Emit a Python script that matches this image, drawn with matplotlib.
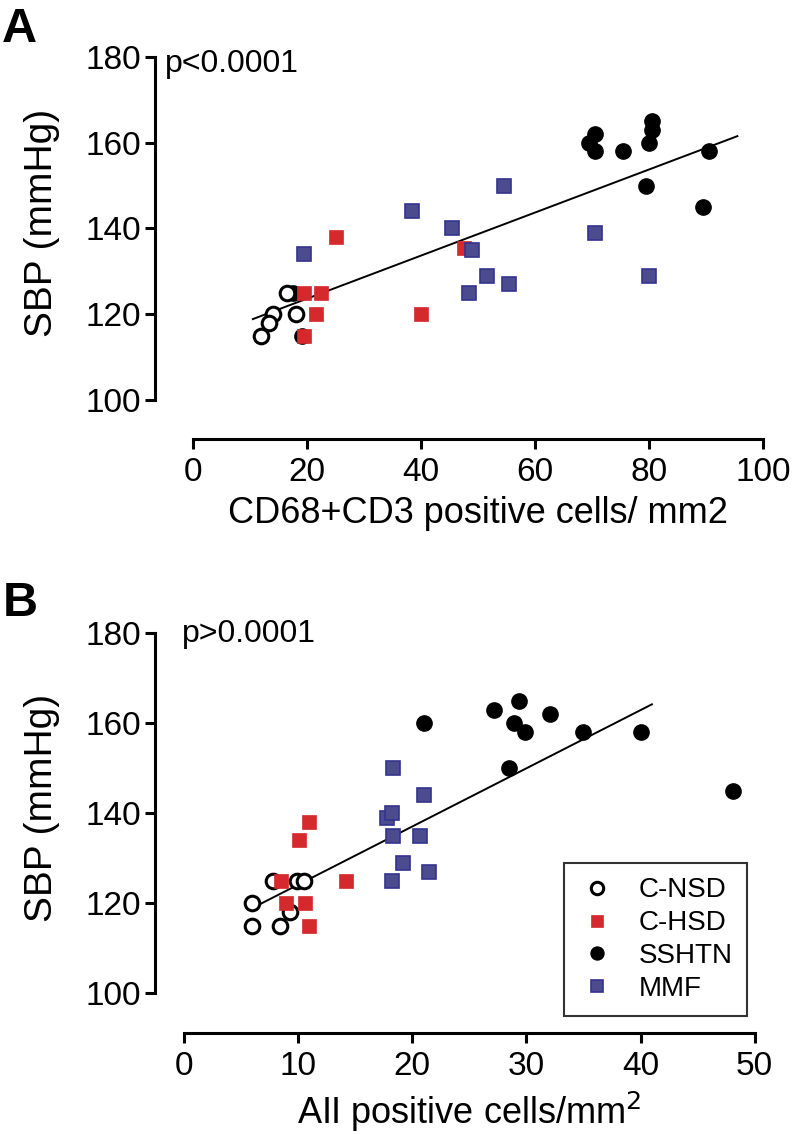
import numpy as np
import matplotlib
matplotlib.use("Agg")
import matplotlib.pyplot as plt

plt.rcParams["font.family"] = ["Liberation Sans", "DejaVu Sans"]

# ============================================================
# Data
# ============================================================
# Panel A: CD68+CD3 positive cells / mm2 vs SBP
A_NSD_X = [16.5, 18.0, 14.0, 13.4, 12.0]
A_NSD_Y = [125, 120, 120, 118, 115]
A_HSD_X = [25.0, 19.5, 22.5, 21.5, 19.5, 40.0, 47.5]
A_HSD_Y = [138, 125, 125, 120, 115, 120, 135.5]
A_SSH_X = [17.5, 19.2, 70.5, 69.5, 70.5, 75.5, 80.5, 80.5, 80.0, 90.5, 79.5, 89.5]
A_SSH_Y = [125, 115, 162, 160, 158, 158, 165, 163, 160, 158, 150, 145]
A_MMF_X = [19.5, 38.5, 45.5, 49.0, 54.5, 70.5, 48.5, 51.5, 55.5, 80.0]
A_MMF_Y = [134, 144, 140, 135, 150, 139, 125, 129, 127, 129]
A_FIT = (0.502, 113.6)        # slope, intercept
A_FIT_RANGE = (10.5, 95.5)

# Panel B: AII positive cells / mm2 vs SBP
B_NSD_X = [7.8, 9.9, 10.5, 6.0, 6.0, 8.4, 9.3]
B_NSD_Y = [125, 125, 125, 120, 115, 115, 118]
B_HSD_X = [11.0, 10.1, 8.5, 14.2, 9.0, 10.6, 11.0]
B_HSD_Y = [138, 134, 125, 125, 120, 120, 115]
B_SSH_X = [21.0, 27.2, 29.4, 28.9, 29.9, 32.1, 35.0, 40.0, 28.5, 48.1]
B_SSH_Y = [160, 163, 165, 160, 158, 162, 158, 158, 150, 145]
B_MMF_X = [18.3, 17.8, 18.2, 18.3, 20.7, 21.0, 19.2, 21.5, 18.2]
B_MMF_Y = [150, 139, 140, 135, 135, 144, 129, 127, 125]
B_FIT = (1.294, 111.1)
B_FIT_RANGE = (6.7, 41.0)

GROUPS = ["C-NSD", "C-HSD", "SSHTN", "MMF"]

RED = "#d42a2e"
BLUE_FACE = "#4b4b8e"
BLUE_EDGE = "#34348f"

W, H = 801, 1134
fig = plt.figure(figsize=(W / 100, H / 100), dpi=100)


def px_axes(left, top, right, bottom):
    return fig.add_axes([left / W, 1 - bottom / H, (right - left) / W, (bottom - top) / H])


def draw_points(ax, nsd, hsd, ssh, mmf):
    h = []
    h.append(ax.plot(nsd[0], nsd[1], "o", ms=10.5, mfc="white", mec="black",
                     mew=2.2, ls="none", label=GROUPS[0], zorder=3)[0])
    h.append(ax.plot(hsd[0], hsd[1], "s", ms=10.5, mfc=RED, mec=RED,
                     mew=0.5, ls="none", label=GROUPS[1], zorder=4)[0])
    h.append(ax.plot(ssh[0], ssh[1], "o", ms=11, mfc="black", mec="black",
                     ls="none", label=GROUPS[2], zorder=2)[0])
    h.append(ax.plot(mmf[0], mmf[1], "s", ms=10.5, mfc=BLUE_FACE, mec=BLUE_EDGE,
                     mew=1.2, ls="none", label=GROUPS[3], zorder=4)[0])
    return h


def style(ax, left_out, bottom_out):
    for s in ("top", "right"):
        ax.spines[s].set_visible(False)
    ax.spines["left"].set_position(("outward", left_out))
    ax.spines["bottom"].set_position(("outward", bottom_out))
    for s in ("left", "bottom"):
        ax.spines[s].set_linewidth(2.2)
    ax.tick_params(direction="out", length=7, width=2.2, labelsize=24, pad=3)
    ax.tick_params(axis="x", pad=6)
    ax.set_ylim(100, 180)
    ax.set_yticks([100, 120, 140, 160, 180])


def fit_line(ax, fit, rng):
    xs = np.array(rng)
    ax.plot(xs, fit[0] * xs + fit[1], color="black", lw=1.4, zorder=1)


# ---------------- Panel A ----------------
axA = px_axes(193, 57, 763, 400)
draw_points(axA, (A_NSD_X, A_NSD_Y), (A_HSD_X, A_HSD_Y),
            (A_SSH_X, A_SSH_Y), (A_MMF_X, A_MMF_Y))
fit_line(axA, A_FIT, A_FIT_RANGE)
axA.set_xlim(0, 100)
axA.set_xticks([0, 20, 40, 60, 80, 100])
style(axA, 38 * 0.72, 39 * 0.72)
axA.set_ylabel("SBP (mmHg)", fontsize=28)
axA.yaxis.set_label_coords(-0.233, 0.515)
axA.set_xlabel("CD68+CD3 positive cells/ mm2", fontsize=26, labelpad=6)

# ---------------- Panel B ----------------
axB = px_axes(183.7, 633, 754.7, 993)
hB = draw_points(axB, (B_NSD_X, B_NSD_Y), (B_HSD_X, B_HSD_Y),
                 (B_SSH_X, B_SSH_Y), (B_MMF_X, B_MMF_Y))
fit_line(axB, B_FIT, B_FIT_RANGE)
axB.set_xlim(0, 50)
axB.set_xticks([0, 10, 20, 30, 40, 50])
style(axB, 28.7 * 0.72, 39.6 * 0.72)
axB.set_ylabel("SBP (mmHg)", fontsize=28)
axB.yaxis.set_label_coords(-0.217, 0.515)
axB.set_xlabel("AII positive cells/mm$^2$", fontsize=26, labelpad=6)

leg = axB.legend(handles=hB, loc="lower right",
                 bbox_to_anchor=(0.9865, -0.064), bbox_transform=axB.transAxes,
                 borderaxespad=0, fontsize=20, frameon=True, fancybox=False,
                 edgecolor="black", handletextpad=0.8, labelspacing=0.25,
                 borderpad=0.5, handlelength=1.4, markerscale=0.85)
leg.get_frame().set_linewidth(1.5)

# Panel letters and p-values
fig.text(2 / W, 1 - 30 / H, "A", fontsize=35, fontweight="bold", va="center", ha="left")
fig.text(3 / W, 1 - 604 / H, "B", fontsize=35, fontweight="bold", va="center", ha="left")
fig.text(165 / W, 1 - 64 / H, "p<0.0001", fontsize=23, va="center", ha="left")
fig.text(182 / W, 1 - 634 / H, "p>0.0001", fontsize=23, va="center", ha="left")

fig.savefig("out.png", dpi=100)
